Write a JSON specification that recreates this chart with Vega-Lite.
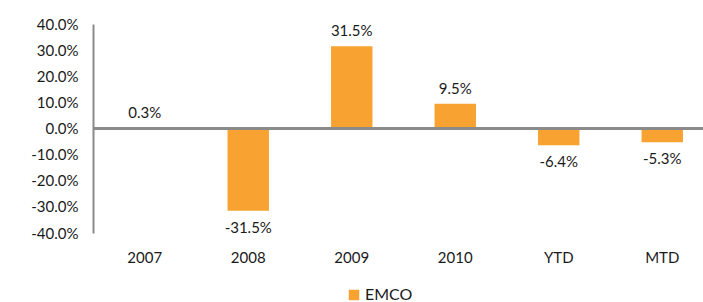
{
  "$schema": "https://vega.github.io/schema/vega-lite/v6.json",
  "autosize": {"type": "none"},
  "width": 621,
  "height": 209,
  "padding": {"left": 93, "top": 24, "right": 0, "bottom": 69},
  "background": "white",
  "data": {"values": [
    {"period": "2007", "value": 0.003, "series": "EMCO"},
    {"period": "2008", "value": -0.315, "series": "EMCO"},
    {"period": "2009", "value": 0.315, "series": "EMCO"},
    {"period": "2010", "value": 0.095, "series": "EMCO"},
    {"period": "YTD", "value": -0.064, "series": "EMCO"},
    {"period": "MTD", "value": -0.053, "series": "EMCO"}
  ]},
  "config": {
    "locale": {"number": {"decimal": ".", "thousands": ",", "grouping": [3], "currency": ["$", ""], "minus": "-"}},
    "view": {"stroke": null},
    "font": "Lato",
    "axis": {"labelFont": "Lato", "labelFontSize": 15, "labelColor": "#1a1a1a", "grid": false, "ticks": false, "title": null, "labelOverlap": false},
    "axisY": {"labelOverlap": false}
  },
  "encoding": {
    "x": {
      "field": "period", "type": "nominal", "sort": null,
      "scale": {"paddingInner": 0.6, "paddingOuter": 0.3},
      "axis": {"domain": false, "labelAngle": 0, "labelPadding": 17}
    },
    "y": {
      "field": "value", "type": "quantitative",
      "scale": {"domain": [-0.4, 0.4], "nice": false},
      "axis": {"values": [-0.4, -0.3, -0.2, -0.1, 0, 0.1, 0.2, 0.3, 0.4], "labelOverlap": false, "labelBound": false, "format": ".1%", "domainColor": "#8a8a8a", "domainWidth": 2, "labelPadding": 15}
    }
  },
  "layer": [
    {
      "mark": {"type": "bar", "color": "#F8A232"},
      "encoding": {
        "color": {"field": "series", "type": "nominal", "scale": {"range": ["#F8A232"]},
          "legend": {"orient": "none", "legendX": 253, "legendY": 263, "direction": "horizontal", "title": null, "symbolType": "square", "symbolSize": 110, "symbolStrokeWidth": 0, "labelFontSize": 16, "labelFont": "Lato", "labelColor": "#1a1a1a", "labelOffset": 3}}
      }
    },
    {
      "mark": {"type": "rule", "color": "#8a8a8a", "strokeWidth": 2},
      "encoding": {"y": {"datum": 0, "type": "quantitative"}, "x": null}
    },
    {
      "transform": [{"filter": "datum.value >= 0"}],
      "mark": {"type": "text", "baseline": "bottom", "dy": -7, "fontSize": 15, "font": "Lato", "color": "#1a1a1a"},
      "encoding": {"text": {"field": "value", "format": ".1%"}}
    },
    {
      "transform": [{"filter": "datum.value < 0"}],
      "mark": {"type": "text", "baseline": "top", "dy": 10, "fontSize": 15, "font": "Lato", "color": "#1a1a1a"},
      "encoding": {"text": {"field": "value", "format": ".1%"}}
    }
  ]
}
